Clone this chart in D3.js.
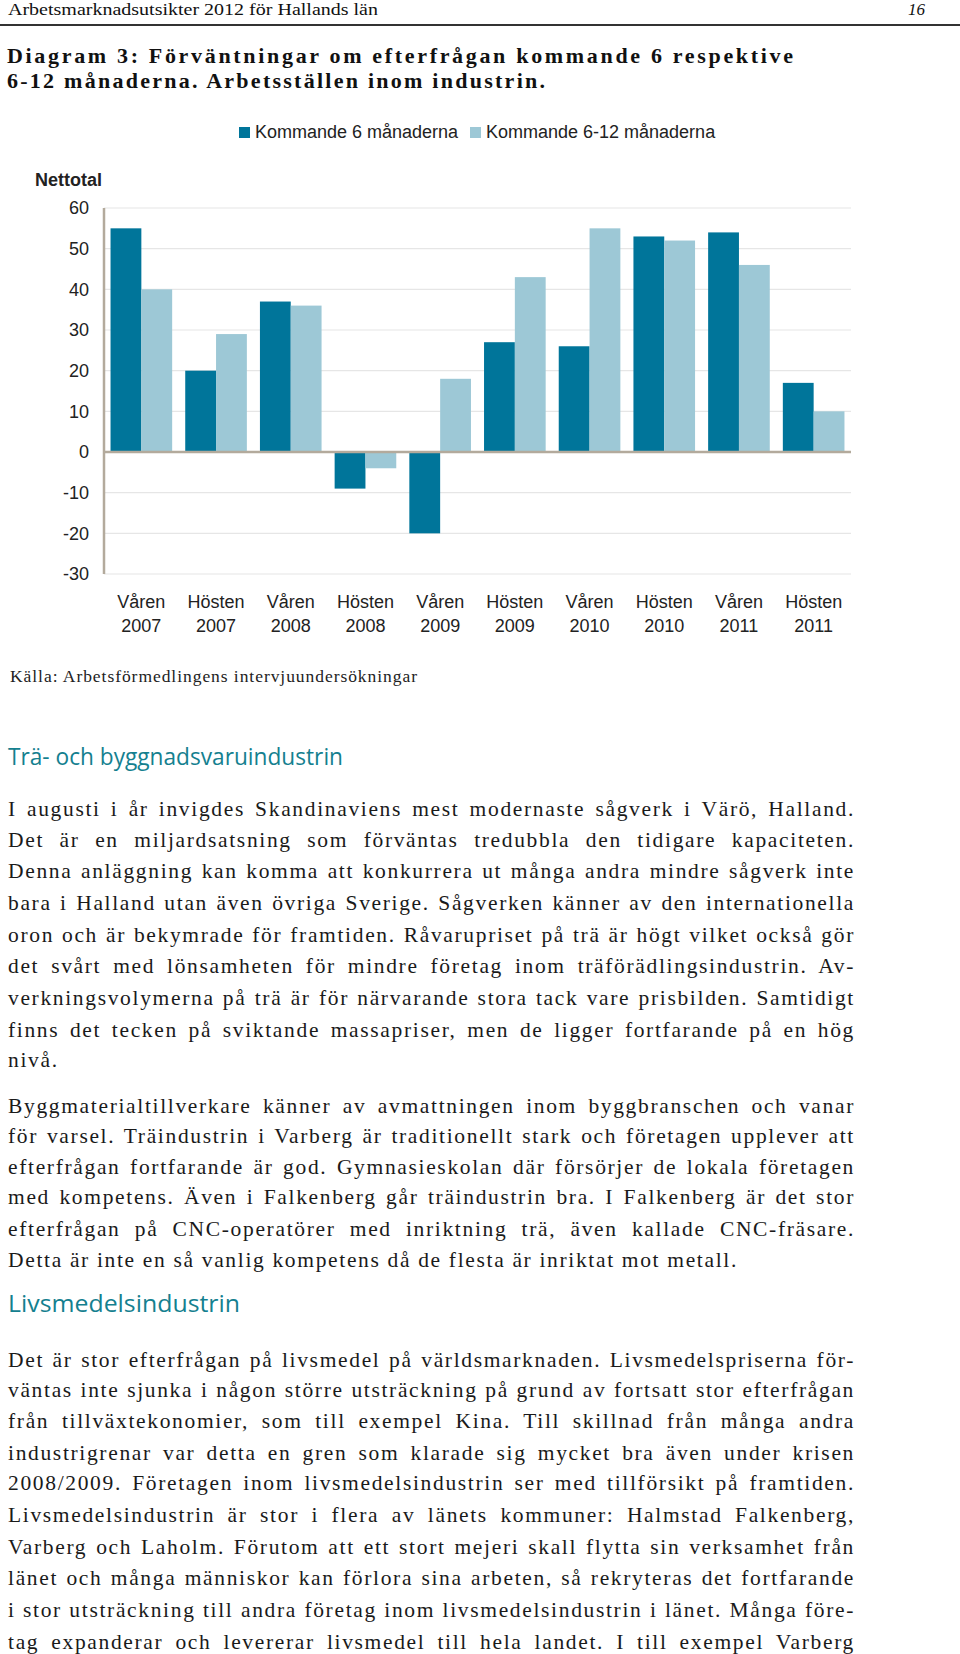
<!DOCTYPE html>
<html><head><meta charset="utf-8">
<script src="https://cdn.jsdelivr.net/npm/d3@7"></script>
<style>
html,body{margin:0;padding:0;background:#fff;}
svg{display:block;}
</style></head>
<body>
<svg id="page" width="960" height="1654"></svg>
<script>
// ---------- DATA ----------
const categories = [["Våren","2007"],["Hösten","2007"],["Våren","2008"],["Hösten","2008"],["Våren","2009"],
                    ["Hösten","2009"],["Våren","2010"],["Hösten","2010"],["Våren","2011"],["Hösten","2011"]];
const series6 = [55, 20, 37, -9, -20, 27, 26, 53, 54, 17];
const series612 = [40, 29, 36, -4, 18, 43, 55, 52, 46, 10];
const seriesNames = ["Kommande 6 månaderna", "Kommande 6-12 månaderna"];
const yTicks = [60, 50, 40, 30, 20, 10, 0, -10, -20, -30];

const para1 = [
"I augusti i år invigdes Skandinaviens mest modernaste sågverk i Värö, Halland.",
"Det är en miljardsatsning som förväntas tredubbla den tidigare kapaciteten.",
"Denna anläggning kan komma att konkurrera ut många andra mindre sågverk inte",
"bara i Halland utan även övriga Sverige. Sågverken känner av den internationella",
"oron och är bekymrade för framtiden. Råvarupriset på trä är högt vilket också gör",
"det svårt med lönsamheten för mindre företag inom träförädlingsindustrin. Av-",
"verkningsvolymerna på trä är för närvarande stora tack vare prisbilden. Samtidigt",
"finns det tecken på sviktande massapriser, men de ligger fortfarande på en hög",
"nivå."];
const para2 = [
"Byggmaterialtillverkare känner av avmattningen inom byggbranschen och vanar",
"för varsel. Träindustrin i Varberg är traditionellt stark och företagen upplever att",
"efterfrågan fortfarande är god. Gymnasieskolan där försörjer de lokala företagen",
"med kompetens. Även i Falkenberg går träindustrin bra. I Falkenberg är det stor",
"efterfrågan på CNC-operatörer med inriktning trä, även kallade CNC-fräsare.",
"Detta är inte en så vanlig kompetens då de flesta är inriktat mot metall."];
const para3 = [
"Det är stor efterfrågan på livsmedel på världsmarknaden. Livsmedelspriserna för-",
"väntas inte sjunka i någon större utsträckning på grund av fortsatt stor efterfrågan",
"från tillväxtekonomier, som till exempel Kina. Till skillnad från många andra",
"industrigrenar var detta en gren som klarade sig mycket bra även under krisen",
"2008/2009. Företagen inom livsmedelsindustrin ser med tillförsikt på framtiden.",
"Livsmedelsindustrin är stor i flera av länets kommuner: Halmstad Falkenberg,",
"Varberg och Laholm. Förutom att ett stort mejeri skall flytta sin verksamhet från",
"länet och många människor kan förlora sina arbeten, så rekryteras det fortfarande",
"i stor utsträckning till andra företag inom livsmedelsindustrin i länet. Många före-",
"tag expanderar och levererar livsmedel till hela landet. I till exempel Varberg"];

// ---------- PAGE ----------
const svg = d3.select("#page");
const serif = "'Liberation Serif','Times New Roman',serif";
const sans = "'Liberation Sans',Arial,Helvetica,sans-serif";
const headFont = "'Open Sans','Noto Sans',sans-serif";
const teal = "#14808f";

// header
svg.append("text").attr("x", 8).attr("y", 15).attr("font-family", serif).attr("font-size", 17)
  .attr("fill", "#111").attr("textLength", 370).attr("lengthAdjust", "spacingAndGlyphs")
  .text("Arbetsmarknadsutsikter 2012  för Hallands län");
svg.append("text").attr("x", 925).attr("y", 15).attr("text-anchor", "end").attr("font-family", serif)
  .attr("font-style", "italic").attr("font-size", 17).attr("fill", "#111").text("16");
svg.append("line").attr("x1", 0).attr("x2", 960).attr("y1", 25).attr("y2", 25)
  .attr("stroke", "#333").attr("stroke-width", 2);

// title
svg.append("text").attr("x", 7).attr("y", 63).attr("font-family", serif).attr("font-weight", "bold")
  .attr("font-size", 22).attr("fill", "#111").attr("textLength", 786).attr("lengthAdjust", "spacing")
  .text("Diagram 3: Förväntningar om efterfrågan kommande 6 respektive");
svg.append("text").attr("x", 7).attr("y", 88).attr("font-family", serif).attr("font-weight", "bold")
  .attr("font-size", 22).attr("fill", "#111").attr("textLength", 538).attr("lengthAdjust", "spacing")
  .text("6-12 månaderna. Arbetsställen inom industrin.");

// ---------- CHART ----------
const colors = ["#00759a", "#9dc8d6"];
const x0 = d3.scaleBand().domain(d3.range(categories.length)).range([104, 851])
  .paddingInner(0.175).paddingOuter(0.0875);
const x1 = d3.scaleBand().domain([0, 1]).range([0, x0.bandwidth()]);
const y = d3.scaleLinear().domain([-30, 60]).range([574, 208]);

const chart = svg.append("g");
// gridlines
chart.selectAll("line.grid").data(yTicks.filter(d => d !== 0)).join("line")
  .attr("x1", 104).attr("x2", 851).attr("y1", d => y(d)).attr("y2", d => y(d))
  .attr("stroke", "#e6e6e6").attr("stroke-width", 1.2);

// bars
const rows = categories.map((c, i) => [series6[i], series612[i]]);
const groups = chart.selectAll("g.grp").data(rows).join("g")
  .attr("transform", (d, i) => `translate(${x0(i)},0)`);
groups.selectAll("rect").data(d => d).join("rect")
  .attr("x", (d, j) => x1(j)).attr("width", x1.bandwidth())
  .attr("y", d => y(Math.max(0, d))).attr("height", d => Math.abs(y(d) - y(0)))
  .attr("fill", (d, j) => colors[j]);

// axes lines
chart.append("line").attr("x1", 104).attr("x2", 851).attr("y1", y(0)).attr("y2", y(0))
  .attr("stroke", "#b3aa9c").attr("stroke-width", 2.5);
chart.append("line").attr("x1", 104).attr("x2", 104).attr("y1", y(60)).attr("y2", y(-30))
  .attr("stroke", "#b3aa9c").attr("stroke-width", 2.5);

// y axis labels via d3 axis
const yAxis = d3.axisLeft(y).tickValues(yTicks).tickSize(0).tickPadding(15).tickFormat(d => String(d));
const yg = chart.append("g").attr("transform", "translate(104,0)").call(yAxis);
yg.select(".domain").remove();
yg.selectAll("text").attr("font-family", sans).attr("font-size", 18).attr("fill", "#222");

// x labels
const xAxis = d3.axisBottom(x0).tickSize(0).tickFormat(() => "");
const xg = chart.append("g").attr("transform", `translate(0,${y(-30)})`).call(xAxis);
xg.select(".domain").remove();
xg.selectAll(".tick").each(function(i) {
  const t = d3.select(this).select("text").attr("y", 0).attr("dy", 0)
    .attr("font-family", sans).attr("font-size", 18).attr("fill", "#222");
  t.append("tspan").attr("x", 0).attr("y", 34).text(categories[i][0]);
  t.append("tspan").attr("x", 0).attr("y", 58).text(categories[i][1]);
});

// Nettotal
chart.append("text").attr("x", 35).attr("y", 186).attr("font-family", sans).attr("font-weight", "bold")
  .attr("font-size", 18).attr("fill", "#222").text("Nettotal");

// legend
const legX = [239, 470];
seriesNames.forEach((n, j) => {
  chart.append("rect").attr("x", legX[j]).attr("y", 127).attr("width", 11).attr("height", 11).attr("fill", colors[j]);
  chart.append("text").attr("x", legX[j] + 16).attr("y", 138).attr("font-family", sans)
    .attr("font-size", 18).attr("fill", "#222").text(n);
});

// source
svg.append("text").attr("x", 10).attr("y", 682).attr("font-family", serif).attr("font-size", 17.5)
  .attr("fill", "#222").attr("textLength", 407).attr("lengthAdjust", "spacing")
  .text("Källa: Arbetsförmedlingens intervjuundersökningar");

// ---------- BODY TEXT ----------
svg.append("text").attr("x", 8).attr("y", 765).attr("font-family", headFont).attr("font-size", 23)
  .attr("fill", teal).attr("textLength", 335).attr("lengthAdjust", "spacingAndGlyphs")
  .text("Trä- och byggnadsvaruindustrin");
svg.append("text").attr("x", 8).attr("y", 1312).attr("font-family", headFont).attr("font-size", 23)
  .attr("fill", teal).attr("textLength", 232).attr("lengthAdjust", "spacingAndGlyphs")
  .text("Livsmedelsindustrin");

const bodySize = 21.5, leftX = 8, rightX = 855;
// calibrate letter spacing from the last line of paragraph 2 (width ~730)
const probe = svg.append("text").attr("font-family", serif).attr("font-size", bodySize).text(para2[5]);
const natural = probe.node().getComputedTextLength();
probe.remove();
const ls = Math.max(0, (730 - natural) / para2[5].length);

function drawPara(lines, baselines, lastJustified) {
  lines.forEach((line, i) => {
    const t = svg.append("text").attr("x", leftX).attr("y", baselines[i]).attr("font-family", serif)
      .attr("font-size", bodySize).attr("fill", "#1a1a1a").attr("letter-spacing", ls).text(line);
    const justify = i < lines.length - 1 || lastJustified;
    if (justify) {
      const w = t.node().getComputedTextLength();
      const spaces = (line.match(/ /g) || []).length;
      const extra = (rightX - leftX) - w;
      if (spaces > 0) t.attr("word-spacing", extra / spaces);
    }
  });
}
drawPara(para1, [816, 847, 878, 910, 942, 973, 1005, 1037, 1067], false);
drawPara(para2, [1113, 1143, 1174, 1204, 1236, 1267], false);
drawPara(para3, [1367, 1397, 1428, 1460, 1490, 1522, 1554, 1585, 1617, 1649], true);
</script>
</body></html>
